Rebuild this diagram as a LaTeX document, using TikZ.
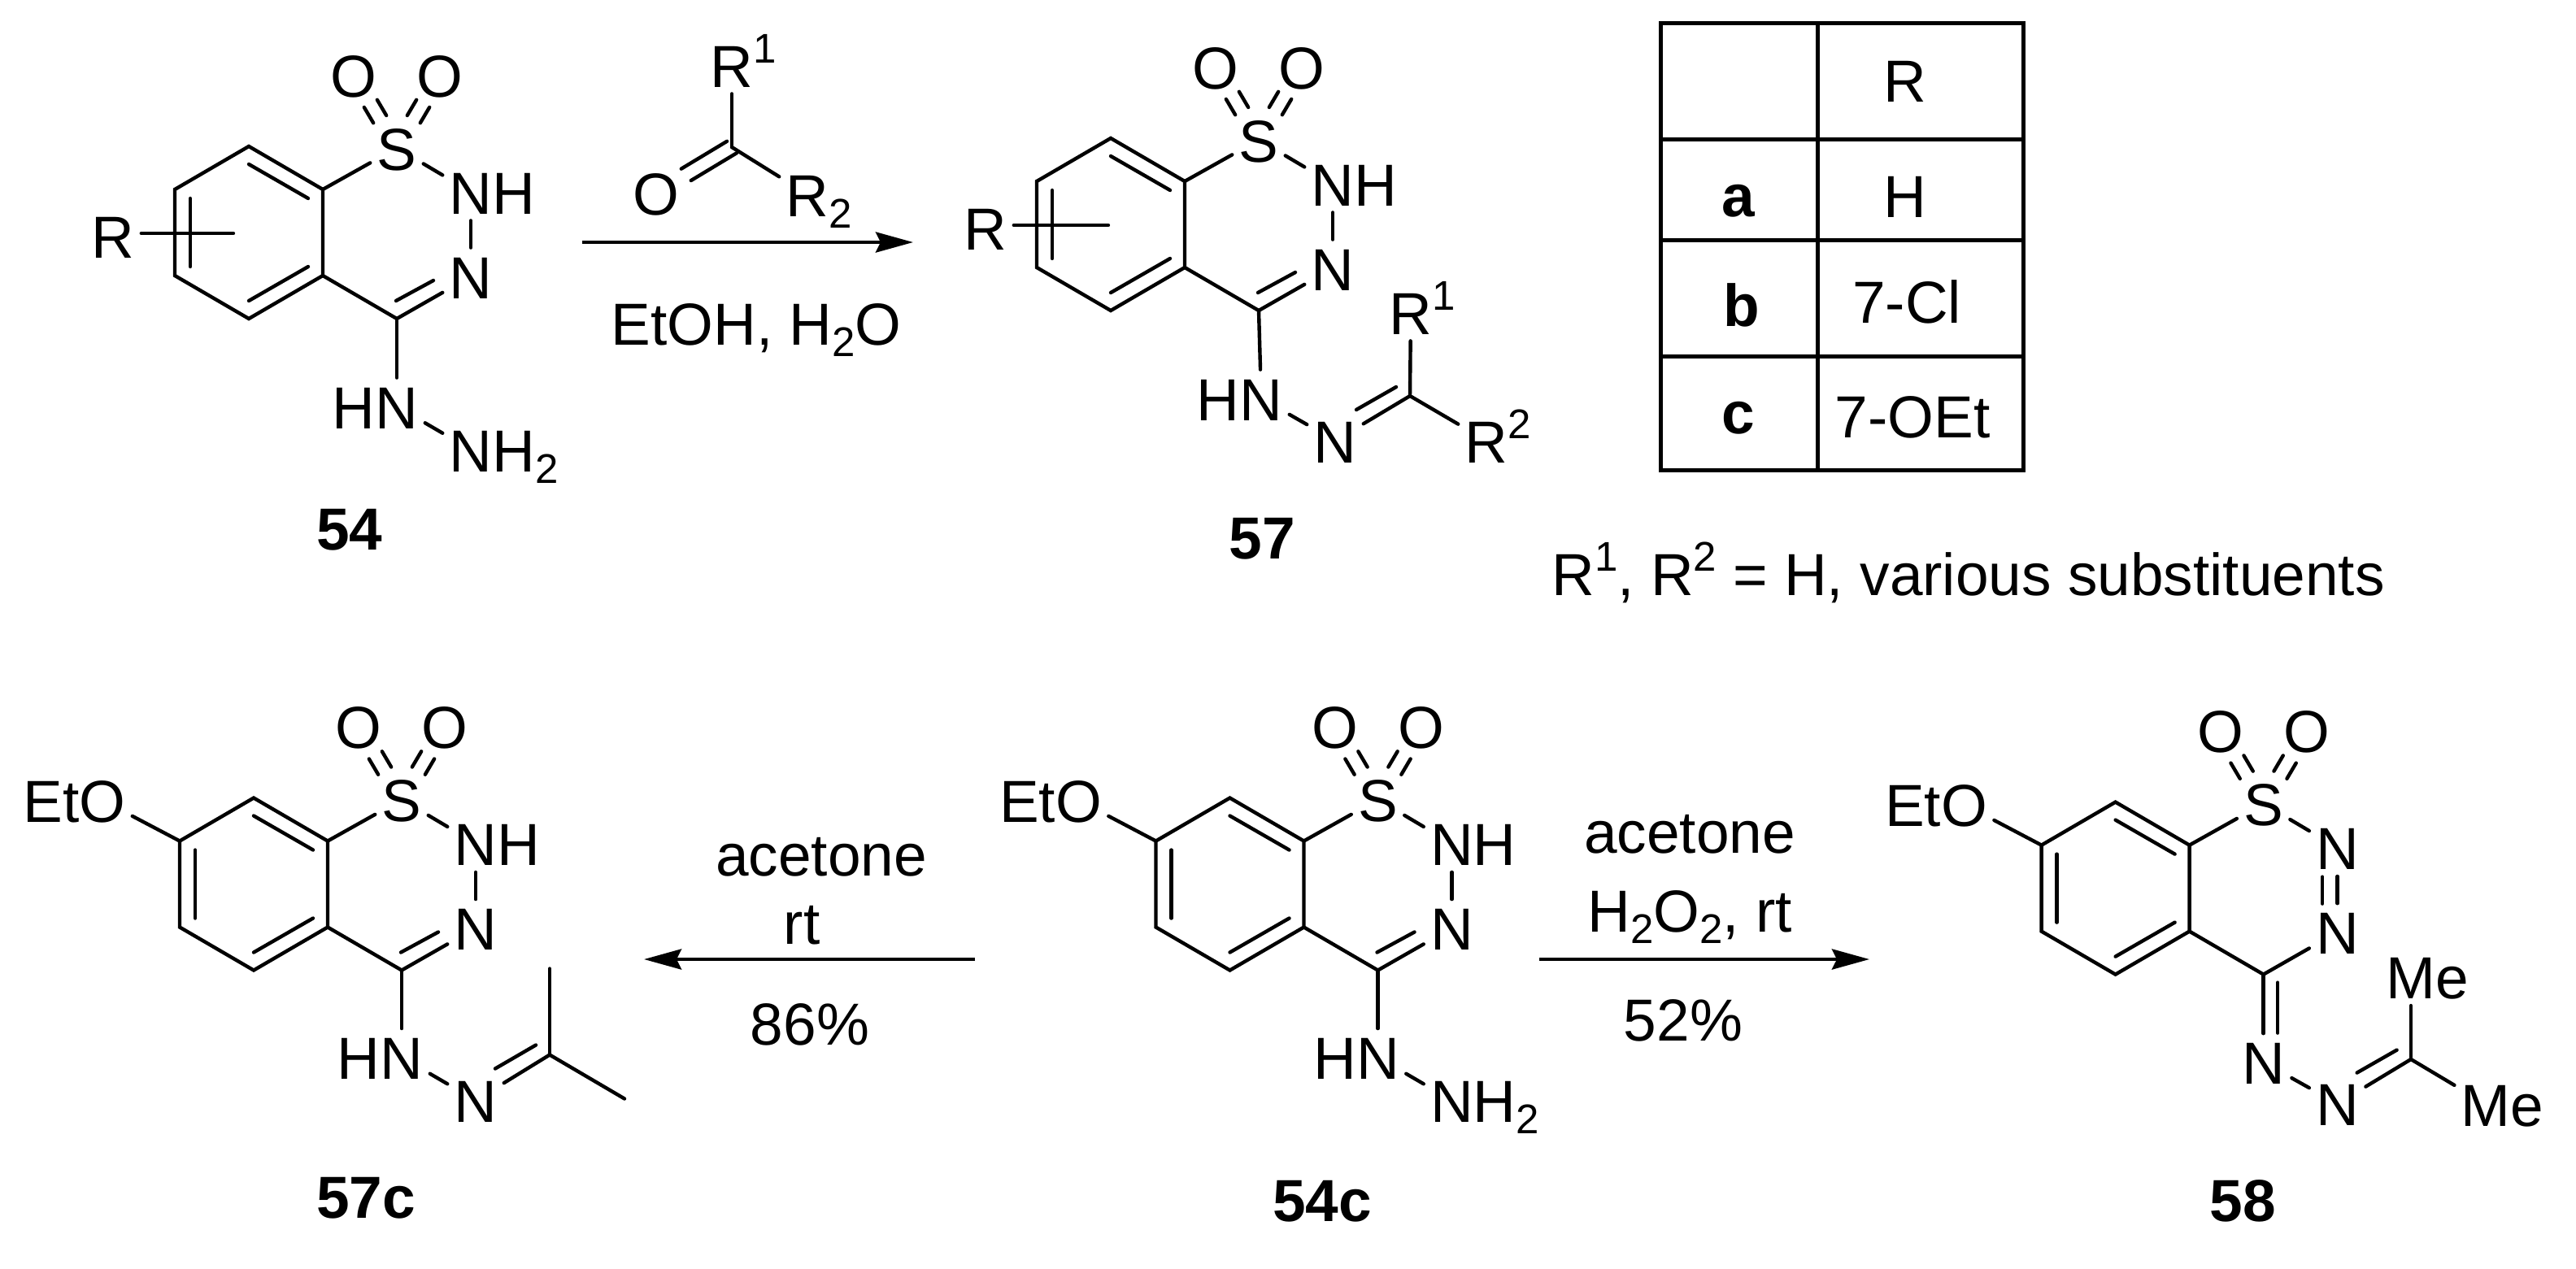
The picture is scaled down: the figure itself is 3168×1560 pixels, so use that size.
\documentclass[tikz,border=0pt]{standalone}
\usepackage{fontspec}
\setmainfont{Liberation Sans}
\usetikzlibrary{arrows.meta}
\newcommand\sps[1]{\raisebox{15pt}{\fontsize{25.5pt}{28pt}\selectfont #1}}
\newcommand\sbs[1]{\raisebox{-7pt}{\fontsize{25.5pt}{28pt}\selectfont #1}}
\tikzset{
  every node/.style={font=\fontsize{36.5pt}{40pt}\selectfont},
  txt/.style={inner sep=0pt,text height=27pt,text depth=0pt},
  atom/.style={txt,inner xsep=4pt,inner ysep=4pt},
  cmpd/.style={txt,font=\fontsize{36.5pt}{40pt}\selectfont\bfseries},
  bond/.style={line width=2.2pt,line join=miter,line cap=round},
  rxn/.style={line width=2.3pt,-{Stealth[length=23pt,width=12.5pt,inset=3pt]}},
  grid/.style={line width=2.5pt,line cap=rect}
}
% benzothiadiazine core: #1 name prefix, #2 text of the atom next to S
\newcommand\core[2]{
  \coordinate (#1top) at (0,-106);
  \coordinate (#1TR) at (91,-53);
  \coordinate (#1BR) at (91,53);
  \coordinate (#1bot) at (0,106);
  \coordinate (#1BL) at (-91,53);
  \coordinate (#1TL) at (-91,-53);
  \coordinate (#1C) at (182,106);
  \node[atom] (#1S) at (182,-104) {S};
  \node[atom] (#1Oa) at (129,-194) {O};
  \node[atom] (#1Ob) at (235,-194) {O};
  \node[atom] (#1Na) at (273,-50) {#2};
  \node[atom] (#1Nb) at (273,54) {N};
  \draw[bond] (#1TL) -- (#1top) -- (#1TR) -- (#1BR) -- (#1bot) -- (#1BL) -- cycle;
  \draw[bond] (0,-84) -- (73,-42);
  \draw[bond] (0,84) -- (73,42);
  \draw[bond] (-72,-42) -- (-72,42);
  \draw[bond] (#1TR) -- (#1S);
  \draw[bond] (#1S) -- (#1Na);
  \draw[bond] (#1BR) -- (#1C);
  \draw[bond] (#1Na) -- (#1Nb);
  \draw[bond] (#1C) -- (#1Nb);
  \draw[bond,transform canvas={xshift=4pt,yshift=2.3pt}] (#1S) -- (#1Oa);
  \draw[bond,transform canvas={xshift=-4pt,yshift=-2.3pt}] (#1S) -- (#1Oa);
  \draw[bond,transform canvas={xshift=4pt,yshift=-2.3pt}] (#1S) -- (#1Ob);
  \draw[bond,transform canvas={xshift=-4pt,yshift=2.3pt}] (#1S) -- (#1Ob);
}
% inner line of the ring C=N
\newcommand\cn{
  \draw[bond] (181,84) -- (227,59);
}
\newcommand\eto[1]{
  \node[atom] (#1Et) at (-186,-103) {\llap{Et}O};
  \draw[bond] (#1Et) -- (#1TL);
}
\begin{document}
\begin{tikzpicture}[x=0.5pt,y=-0.5pt]
\useasboundingbox (0,0) rectangle (3168,1560);
\fill[white] (0,0) rectangle (3168,1560);

% ---------- 54
\begin{scope}[shift={(306,286)}]
  \core{a}{N\rlap{H}}
  \cn
  \node[atom] (aR) at (-167,4) {R};
  \coordinate (aRe) at (-19,1);
  \draw[bond] (aR.east |- aRe) -- (aRe);
  \node[atom] (aHN) at (182,214) {\llap{H}N};
  \node[atom] (aNH) at (273,267) {N\rlap{H\sbs{2}}};
  \draw[bond] (aC) -- (aHN);
  \draw[bond] (aHN) -- (aNH);
\end{scope}
\node[cmpd] (l54) at (430,649) {54};

% ---------- ketone
\coordinate (kC) at (900,181);
\node[atom] (kR1) at (900,80) {R\rlap{\sps{1}}};
\node[atom] (kO) at (807,237) {O};
\node[atom] (kR2) at (993,239) {R\rlap{\sbs{2}}};
\draw[bond] (kR1) -- (kC);
\draw[bond] (kC) -- (kR2);
\draw[bond,transform canvas={xshift=3pt,yshift=-3.6pt}] (kC) -- (kO);
\draw[bond,transform canvas={xshift=-3pt,yshift=3.6pt}] (kC) -- (kO);

% ---------- arrow 1
\coordinate (r1s) at (716,298);
\coordinate (r1e) at (1123,298);
\draw[rxn] (r1s) -- (r1e);
\node[txt] (r1t) at (930,397) {EtOH, H\sbs{2}O};

% ---------- 57
\begin{scope}[shift={(1366,276)}]
  \core{b}{N\rlap{H}}
  \cn
  \node[atom] (bR) at (-154,4) {R};
  \coordinate (bRe) at (-3,1);
  \draw[bond] (bR.east |- bRe) -- (bRe);
  \node[atom] (bHN) at (185,214) {\llap{H}N};
  \node[atom] (bNc) at (276,266) {N};
  \coordinate (bCc) at (368,211);
  \node[atom] (bR1) at (369,108) {R\rlap{\sps{1}}};
  \node[atom] (bR2) at (462,266) {R\rlap{\sps{2}}};
  \draw[bond] (bC) -- (bHN);
  \draw[bond] (bHN) -- (bNc);
  \draw[bond] (bNc) -- (bCc);
  \draw[bond] (302,228) -- (351,200);
  \draw[bond] (bCc) -- (bR1);
  \draw[bond] (bCc) -- (bR2);
\end{scope}
\node[cmpd] (l57) at (1552,660) {57};

% ---------- table
\coordinate (tNW) at (2042,28);
\coordinate (tNE) at (2488,28);
\coordinate (tSW) at (2042,578);
\coordinate (tSE) at (2488,578);
\coordinate (tmT) at (2235,28);
\coordinate (tmB) at (2235,578);
\draw[grid] (tNW) rectangle (tSE);
\draw[grid] (tmT) -- (tmB);
\draw[grid] (2042,171) -- (2488,171);
\draw[grid] (2042,295) -- (2488,295);
\draw[grid] (2042,438) -- (2488,438);
\node[txt] (tR) at (2343,98) {R};
\node[txt] (tH) at (2343,240) {H};
\node[txt] (tCl) at (2345,370) {7-Cl};
\node[txt] (tOEt) at (2352,511) {7-OEt};
\node[cmpd] (ta) at (2138,239) {a};
\node[cmpd] (tb) at (2142,374) {b};
\node[cmpd] (tc) at (2138,506) {c};
\node[txt,anchor=west] (note) at (1908,705) {R\sps{1}, R\sps{2} = H, various substituents};

% ---------- 57c
\begin{scope}[shift={(312,1087.5)}]
  \core{c}{N\rlap{H}}
  \cn
  \eto{c}
  \node[atom] (cHN) at (182,213) {\llap{H}N};
  \node[atom] (cNc) at (273,266) {N};
  \coordinate (cCc) at (364,210);
  \coordinate (cMa) at (364,104);
  \coordinate (cMb) at (456,264);
  \draw[bond] (cC) -- (cHN);
  \draw[bond] (cHN) -- (cNc);
  \draw[bond] (cNc) -- (cCc);
  \draw[bond] (297,227) -- (347,198);
  \draw[bond] (cCc) -- (cMa);
  \draw[bond] (cCc) -- (cMb);
\end{scope}
\node[cmpd] (l57c) at (450,1471) {57c};

% ---------- arrow 2
\coordinate (r2s) at (1199,1180);
\coordinate (r2e) at (792,1180);
\draw[rxn] (r2s) -- (r2e);
\node[txt] (r2a) at (1010,1050) {acetone};
\node[txt] (r2b) at (986,1134) {rt};
\node[txt] (r2c) at (996,1258) {86\%};

% ---------- 54c
\begin{scope}[shift={(1512.5,1087.5)}]
  \core{d}{N\rlap{H}}
  \cn
  \eto{d}
  \node[atom] (dHN) at (182,213) {\llap{H}N};
  \node[atom] (dNH) at (273,266) {N\rlap{H\sbs{2}}};
  \draw[bond] (dC) -- (dHN);
  \draw[bond] (dHN) -- (dNH);
\end{scope}
\node[cmpd] (l54c) at (1626,1475) {54c};

% ---------- arrow 3
\coordinate (r3s) at (1893,1180);
\coordinate (r3e) at (2299,1180);
\draw[rxn] (r3s) -- (r3e);
\node[txt] (r3a) at (2078,1022) {acetone};
\node[txt] (r3b) at (2078,1119) {H\sbs{2}O\sbs{2}, rt};
\node[txt] (r3c) at (2070,1253) {52\%};

% ---------- 58
\begin{scope}[shift={(2601.6,1092.6)}]
  \core{e}{N}
  \eto{e}
  \draw[bond] (254.5,-14) -- (254.5,19);
  \node[atom] (eNx) at (182,214) {N};
  \node[atom] (eNc) at (273,265) {N};
  \coordinate (eCc) at (363.4,210.4);
  \node[atom] (eMa) at (363.4,109) {M\rlap{e}};
  \node[atom] (eMb) at (455.6,265.4) {M\rlap{e}};
  \draw[bond] (eC) -- (eNx);
  \draw[bond] (199.5,116) -- (199.5,178);
  \draw[bond] (eNx) -- (eNc);
  \draw[bond] (eNc) -- (eCc);
  \draw[bond] (297,227) -- (346,199);
  \draw[bond] (eCc) -- (eMa);
  \draw[bond] (eCc) -- (eMb);
\end{scope}
\node[cmpd] (l58) at (2758,1475) {58};
\end{tikzpicture}
\end{document}
